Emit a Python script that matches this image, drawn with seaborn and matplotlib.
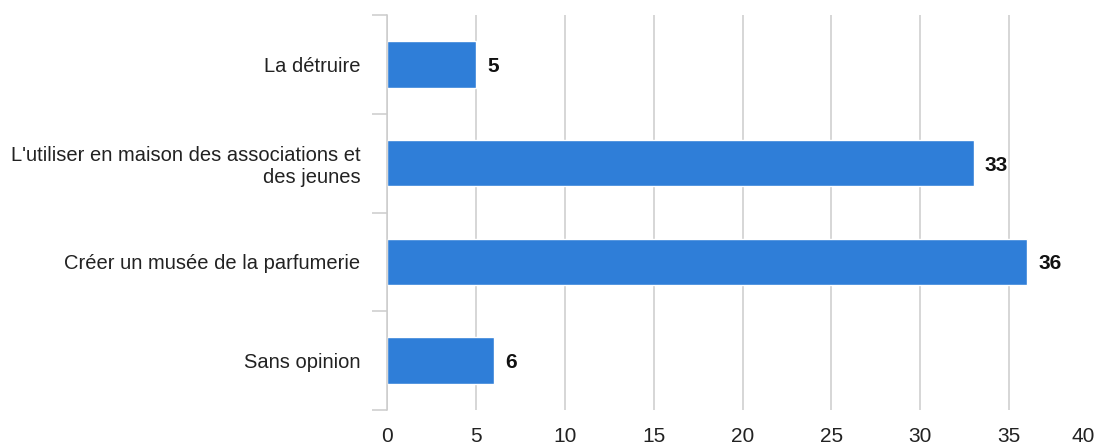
import matplotlib
matplotlib.use('Agg')
import matplotlib.pyplot as plt
import matplotlib.transforms as mtransforms
import seaborn as sns
import pandas as pd

categories = ['La détruire',
              "L'utiliser en maison des associations et\ndes jeunes",
              'Créer un musée de la parfumerie',
              'Sans opinion']
values = [5, 33, 36, 6]
x_ticks = [0, 5, 10, 15, 20, 25, 30, 35, 40]

df = pd.DataFrame({'choix': categories, 'votes': values})

sns.set_theme(style='white')
plt.rcParams['font.family'] = ['Liberation Sans', 'DejaVu Sans']

fig = plt.figure(figsize=(10.94, 4.47), dpi=100)
ax = fig.add_axes([387 / 1094, 37 / 447, 711 / 1094, 395 / 447])

sns.barplot(data=df, x='votes', y='choix', orient='h', color='#2f7ed8',
            width=0.47, saturation=1, ax=ax)

ax.set_xlim(0, 40)
ax.set_ylim(3.5, -0.5)
ax.set_xticks(x_ticks)
ax.xaxis.grid(True, color='#cccccc', linewidth=1.1)
ax.set_axisbelow(True)

for side in ['top', 'right', 'bottom']:
    ax.spines[side].set_visible(False)
ax.spines['left'].set_color('#cccccc')
ax.spines['left'].set_linewidth(1.1)

ax.set_yticks([-0.5, 0.5, 1.5, 2.5, 3.5], minor=True)
ax.tick_params(axis='y', which='minor', length=11, width=1.1, color='#cccccc', left=True)
ax.tick_params(axis='y', which='major', length=0, pad=19, labelsize=14.5, labelcolor='#222222')
ax.tick_params(axis='x', length=0, pad=12, labelsize=15, labelcolor='#222222')

for lab in ax.get_yticklabels():
    lab.set_horizontalalignment('right')
    lab.set_multialignment('right')

# dernier libellé (40) décalé vers la gauche pour rester dans l'image
last = ax.get_xticklabels()[-1]
last.set_transform(last.get_transform() +
                   mtransforms.ScaledTranslation(-15 / 100, 0, fig.dpi_scale_trans))

texts = ax.bar_label(ax.containers[0], labels=[str(v) for v in values], padding=8,
                     fontsize=15, fontweight='bold', color='#111111')
for t in texts:
    x0, y0 = t.xyann
    t.xyann = (x0, y0 - 1.5)

ax.set_xlabel('')
ax.set_ylabel('')

fig.savefig('out.png', dpi=100)
